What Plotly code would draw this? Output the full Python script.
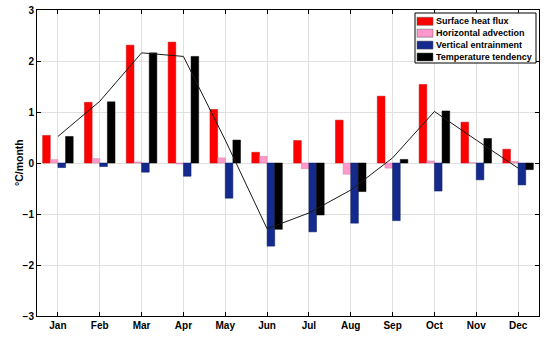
import plotly.graph_objects as go

months = ["Jan", "Feb", "Mar", "Apr", "May", "Jun", "Jul", "Aug", "Sep", "Oct", "Nov", "Dec"]
surface_heat_flux = [0.54, 1.19, 2.31, 2.37, 1.05, 0.21, 0.44, 0.84, 1.31, 1.54, 0.80, 0.27]
horizontal_advection = [0.065, 0.085, 0.02, -0.02, 0.10, 0.13, -0.11, -0.22, -0.10, 0.04, 0.005, 0.03]
vertical_entrainment = [-0.09, -0.07, -0.18, -0.26, -0.69, -1.63, -1.35, -1.18, -1.13, -0.55, -0.33, -0.43]
temperature_tendency = [0.52, 1.20, 2.16, 2.09, 0.45, -1.30, -1.02, -0.56, 0.07, 1.02, 0.48, -0.13]
line_values = [0.52, 1.21, 2.16, 2.09, 0.45, -1.29, -0.98, -0.53, 0.10, 1.01, 0.45, -0.10]
series_names = ["Surface heat flux", "Horizontal advection", "Vertical entrainment", "Temperature tendency"]
series_colors = ["#FF0000", "#FF99CC", "#142A8C", "#000000"]
edge_colors = ["#C80000", "#D07AA0", "#0A1A60", "#000000"]
y_title = "°C/month"

x = list(range(1, 13))
FONT = "Arial, Liberation Sans, sans-serif"

W, H = 550, 338
L, R, T, B = 37, 11, 10, 22
PW, PH = W - L - R, H - T - B


def px(xp):
    return (xp - L) / PW


def py(yp):
    return (H - B - yp) / PH


fig = go.Figure()
for name, vals, col, edge in zip(series_names,
                                 [surface_heat_flux, horizontal_advection, vertical_entrainment, temperature_tendency],
                                 series_colors, edge_colors):
    fig.add_trace(go.Bar(x=x, y=vals, name=name, showlegend=False,
                         marker=dict(color=col, line=dict(color=edge, width=0.5))))

fig.add_trace(go.Scatter(x=x, y=line_values, mode="lines", line=dict(color="#1a1a1a", width=1), showlegend=False))

# custom legend box (MATLAB style)
shapes = [dict(type="rect", xref="paper", yref="paper", x0=px(415), x1=px(536), y0=py(63), y1=py(13),
               line=dict(color="black", width=1), fillcolor="white", layer="above")]
annotations = []
for i, (name, col) in enumerate(zip(series_names, series_colors)):
    cy = 21.3 + 11.9 * i
    shapes.append(dict(type="rect", xref="paper", yref="paper", x0=px(417), x1=px(433),
                       y0=py(cy + 4), y1=py(cy - 4), line=dict(color="#555", width=0.5),
                       fillcolor=col, layer="above"))
    annotations.append(dict(xref="paper", yref="paper", x=px(434), y=py(cy), text=name,
                            showarrow=False, xanchor="left", yanchor="middle",
                            font=dict(family=FONT, size=9, color="black", weight="bold")))

# y-axis title
annotations.append(dict(xref="paper", yref="paper", x=px(19), y=0.5, text=y_title, textangle=-90,
                        showarrow=False, xanchor="center", yanchor="middle",
                        font=dict(family=FONT, size=10.5, color="black", weight="bold")))

fig.update_layout(
    width=W, height=H,
    margin=dict(l=L, r=R, t=T, b=B),
    paper_bgcolor="white", plot_bgcolor="white",
    barmode="group", bargap=0.27, bargroupgap=0,
    font=dict(family=FONT, size=10, color="black"),
    showlegend=False,
    shapes=shapes, annotations=annotations,
    xaxis=dict(range=[0.5, 12.5], tickvals=x, ticktext=months, automargin=False,
               ticks="inside", ticklen=4, tickcolor="black", mirror="ticks",
               showline=True, linecolor="black", linewidth=1,
               showgrid=True, gridcolor="#E0E0E0", zeroline=False,
               tickfont=dict(family=FONT, size=10, weight="bold")),
    yaxis=dict(range=[-3, 3], tickvals=[-3, -2, -1, 0, 1, 2, 3], automargin=False,
               ticks="inside", ticklen=4, tickcolor="black", mirror="ticks",
               showline=True, linecolor="black", linewidth=1,
               showgrid=True, gridcolor="#E0E0E0", zeroline=False,
               tickfont=dict(family=FONT, size=10, weight="bold")),
)

fig.write_html("out.html", config={"displayModeBar": False},
               post_script="document.body.style.margin='0';document.body.style.padding='0';")
